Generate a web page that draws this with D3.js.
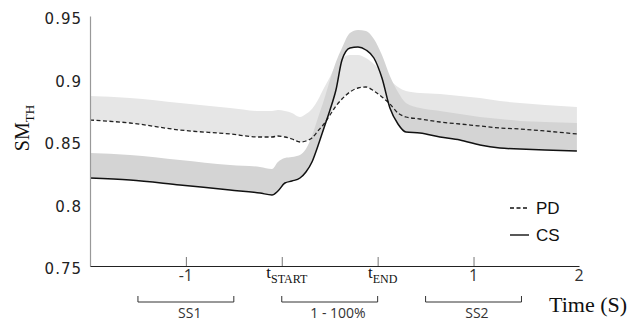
<!DOCTYPE html>
<html>
<head>
<meta charset="utf-8">
<script src="https://cdn.jsdelivr.net/npm/d3@7"></script>
<style>
  body { margin: 0; background: #fff; }
  svg { display: block; }
</style>
</head>
<body>
<div id="chart"></div>
<script>
// x positions in axis units (0 = origin, 1 = "-1", 2 = tSTART, 3 = tEND, 4 = "1", 5.1 = "2")
const pos = [0, 0.417, 0.938, 1.46, 1.773, 1.898, 1.96, 2.033, 2.106, 2.19, 2.252, 2.315, 2.377,
  2.44, 2.503, 2.565, 2.628, 2.711, 2.795, 2.878, 2.961, 3.045, 3.128, 3.212, 3.295, 3.441,
  3.65, 3.858, 4.067, 4.275, 4.484, 4.745, 5.078];

const pdMean = [0.8668, 0.8644, 0.8588, 0.8556, 0.8532, 0.8532, 0.854, 0.8532, 0.8516, 0.8492, 0.85,
  0.8524, 0.858, 0.8636, 0.8708, 0.878, 0.8836, 0.8892, 0.8924, 0.8932, 0.89, 0.8852, 0.8796,
  0.8724, 0.8692, 0.8676, 0.8652, 0.8636, 0.862, 0.8604, 0.8596, 0.858, 0.8556];
const pdUpper = [0.886, 0.8844, 0.8804, 0.8764, 0.874, 0.874, 0.8748, 0.874, 0.8724, 0.8692, 0.8716,
  0.8756, 0.8828, 0.8924, 0.9012, 0.9108, 0.9164, 0.9188, 0.9188, 0.9164, 0.9116, 0.9052, 0.8988,
  0.8932, 0.89, 0.8884, 0.8876, 0.886, 0.8844, 0.882, 0.8804, 0.8788, 0.8772];

const csMean = [0.8204, 0.8188, 0.8148, 0.8108, 0.8084, 0.8068, 0.81, 0.8164, 0.818, 0.8204, 0.8252,
  0.8332, 0.846, 0.8604, 0.8748, 0.8908, 0.9148, 0.9244, 0.9252, 0.9228, 0.9164, 0.9004, 0.8764,
  0.8636, 0.8572, 0.8564, 0.8532, 0.8508, 0.8468, 0.8444, 0.8436, 0.8428, 0.842];
const csUpper = [0.8404, 0.8388, 0.8348, 0.8308, 0.8292, 0.8276, 0.8332, 0.8364, 0.8372, 0.8388,
  0.8436, 0.854, 0.8684, 0.8828, 0.8988, 0.9132, 0.9244, 0.9364, 0.9388, 0.938, 0.9316, 0.9188,
  0.902, 0.8892, 0.8804, 0.8764, 0.874, 0.8716, 0.8692, 0.8676, 0.866, 0.8652, 0.8644];

const yTicks = [0.75, 0.8, 0.85, 0.9, 0.95];
const xTicks = [1, 2, 3, 4, 5.1];
const xTickLabels = ["-1", ["t", "START"], ["t", "END"], "1", "2"];

const phases = [
  { name: "SS1", from: 0.5, to: 1.5, labelAt: 1.04 },
  { name: "1 - 100%", from: 2, to: 3, labelAt: 2.586 },
  { name: "SS2", from: 3.5, to: 4.5, labelAt: 4.035 }
];

const width = 643, height = 324;

const svg = d3.select("#chart").append("svg")
  .attr("width", width)
  .attr("height", height);

const x = d3.scaleLinear().domain([0, 5.1]).range([90, 579]);
const y = d3.scaleLinear().domain([0.75, 0.95]).range([266, 16]);

// bands
const pdBand = d3.area().curve(d3.curveMonotoneX)
  .x((d, i) => x(pos[i])).y0((d, i) => y(pdMean[i])).y1(d => y(d));
const csBand = d3.area().curve(d3.curveMonotoneX)
  .x((d, i) => x(pos[i])).y0((d, i) => y(csMean[i])).y1(d => y(d));

svg.append("path").datum(pdUpper).attr("fill", "#e6e6e6").attr("d", pdBand);
svg.append("path").datum(csUpper).attr("fill", "#d4d4d4").attr("d", csBand);

const line = d3.line().curve(d3.curveMonotoneX)
  .x((d, i) => x(pos[i])).y(d => y(d));

svg.append("path").datum(pdMean)
  .attr("fill", "none").attr("stroke", "#222").attr("stroke-width", 1.3)
  .attr("stroke-dasharray", "4,2.5").attr("d", line);
svg.append("path").datum(csMean)
  .attr("fill", "none").attr("stroke", "#111").attr("stroke-width", 1.5)
  .attr("d", line);

// y axis (no tick marks)
const yAxis = svg.append("g").attr("transform", `translate(${x(0)},0)`)
  .call(d3.axisLeft(y).tickValues(yTicks).tickFormat(d3.format("")).tickSize(0).tickPadding(8));
yAxis.select(".domain").attr("stroke", "#999").attr("stroke-width", 1.2);
yAxis.selectAll("text")
  .attr("dy", "0.5em")
  .style("font-family", "DejaVu Sans")
  .style("font-size", "15px")
  .style("letter-spacing", "1px")
  .style("fill", "#222");

// x axis: ticks point up into the plot
const xAxis = svg.append("g").attr("transform", `translate(0,${y(0.75)})`)
  .call(d3.axisBottom(x).tickValues(xTicks).tickSize(-9).tickSizeOuter(0).tickFormat(""));
xAxis.select(".domain").attr("stroke", "#222").attr("stroke-width", 1.2);
xAxis.selectAll(".tick line").attr("stroke", "#777")
  .attr("opacity", (d) => (d > 5 ? 0 : 1));

xTicks.forEach((v, i) => {
  const lab = xTickLabels[i];
  if (Array.isArray(lab)) {
    const t = svg.append("text")
      .attr("x", x(v) + 5)
      .attr("y", 278)
      .attr("text-anchor", "middle")
      .style("font-family", "Liberation Serif")
      .style("fill", "#111");
    t.append("tspan").style("font-size", "17px").text(lab[0]);
    t.append("tspan").attr("dy", 5).style("font-size", "12px").text(lab[1]);
  } else {
    svg.append("text")
      .attr("x", x(v))
      .attr("y", 281)
      .attr("text-anchor", "middle")
      .style("font-family", "Open Sans")
      .style("font-size", "16px")
      .style("fill", "#333")
      .text(lab);
  }
});

// phase brackets
phases.forEach(p => {
  const x0 = x(p.from), x1 = x(p.to);
  svg.append("path")
    .attr("d", `M${x0},296V302H${x1}V296`)
    .attr("fill", "none").attr("stroke", "#333").attr("stroke-width", 1);
  svg.append("text")
    .attr("x", x(p.labelAt))
    .attr("y", 318)
    .attr("text-anchor", "middle")
    .style("font-family", "Open Sans")
    .style("font-size", "14px")
    .style("fill", "#333")
    .text(p.name);
});

svg.append("text")
  .attr("x", 549).attr("y", 312)
  .style("font-family", "Liberation Serif")
  .style("font-size", "22px")
  .style("fill", "#111")
  .text("Time (S)");

// y label
const yl = svg.append("text")
  .attr("transform", "translate(29,128) rotate(-90)")
  .attr("text-anchor", "middle")
  .style("font-family", "Liberation Serif")
  .style("fill", "#111");
yl.append("tspan").style("font-size", "20px").text("SM");
yl.append("tspan").attr("dy", 5).style("font-size", "13px").text("TH");

// legend
const legend = [
  { name: "PD", dash: "4,2.5", yPos: 208 },
  { name: "CS", dash: null, yPos: 235 }
];
legend.forEach(l => {
  svg.append("line")
    .attr("x1", 510).attr("x2", 529).attr("y1", l.yPos).attr("y2", l.yPos)
    .attr("stroke", "#111").attr("stroke-width", 1.4)
    .attr("stroke-dasharray", l.dash);
  svg.append("text")
    .attr("x", 536).attr("y", l.yPos + 6)
    .style("font-family", "Liberation Sans")
    .style("font-size", "17px")
    .style("fill", "#111")
    .text(l.name);
});
</script>
</body>
</html>
